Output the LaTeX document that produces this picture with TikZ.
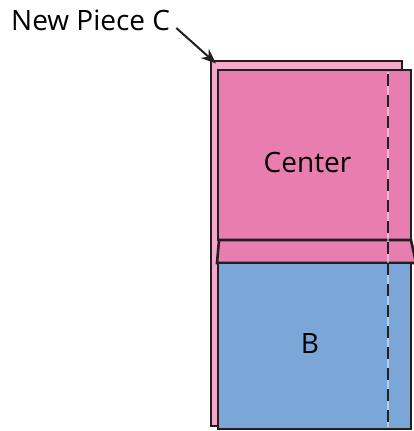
\documentclass[tikz,border=0pt]{standalone}
\usepackage{fontspec}
\setmainfont{Open Sans}
\usetikzlibrary{arrows.meta}
\definecolor{backpink}{HTML}{F5A9CA}
\definecolor{centerpink}{HTML}{E87DB0}
\definecolor{blockblue}{HTML}{7BA7D8}
\definecolor{edge}{HTML}{231F20}
\tikzset{
  piece/.style={draw=edge,line width=2.6pt,line join=miter},
  seam/.style={edge,line width=2.8pt,dash pattern=on 12pt off 9pt},
  bigtext/.style={font=\fontsize{28}{32}\selectfont,inner sep=0pt},
}
\begin{document}
\begin{tikzpicture}[x=1pt,y=-1pt]
    \useasboundingbox (0,0) rectangle (413,431);
    % hintere Lage
    \draw[piece,fill=backpink] (211,61) rectangle (402,426);
    \coordinate (cornerC) at (216,63.5);
    % Center
    \draw[piece,fill=centerpink] (218,70) rectangle (411,240);
    \node[bigtext,anchor=base] (center) at (307.5,172) {Center};
    % Streifen
    \draw[piece,fill=centerpink] (219,240) -- (411,240) -- (416,263) -- (217,263) -- cycle;
    % B
    \draw[piece,fill=blockblue] (218,263) rectangle (411,429);
    \node[bigtext,anchor=base] (B) at (310,353) {B};
    % Naht
    \draw[white,opacity=.45,line width=2pt] (388,72) -- (388,427);
    \draw[seam] (388,74) -- (388,427);
    % Beschriftung
    \node[bigtext,anchor=base west] (label) at (11,30) {New Piece C};
    \draw[edge,line width=2pt,-{Stealth[length=15pt,width=12pt]}] ([shift={(6pt,2pt)}]label.base east) -- (cornerC);
\end{tikzpicture}
\end{document}
